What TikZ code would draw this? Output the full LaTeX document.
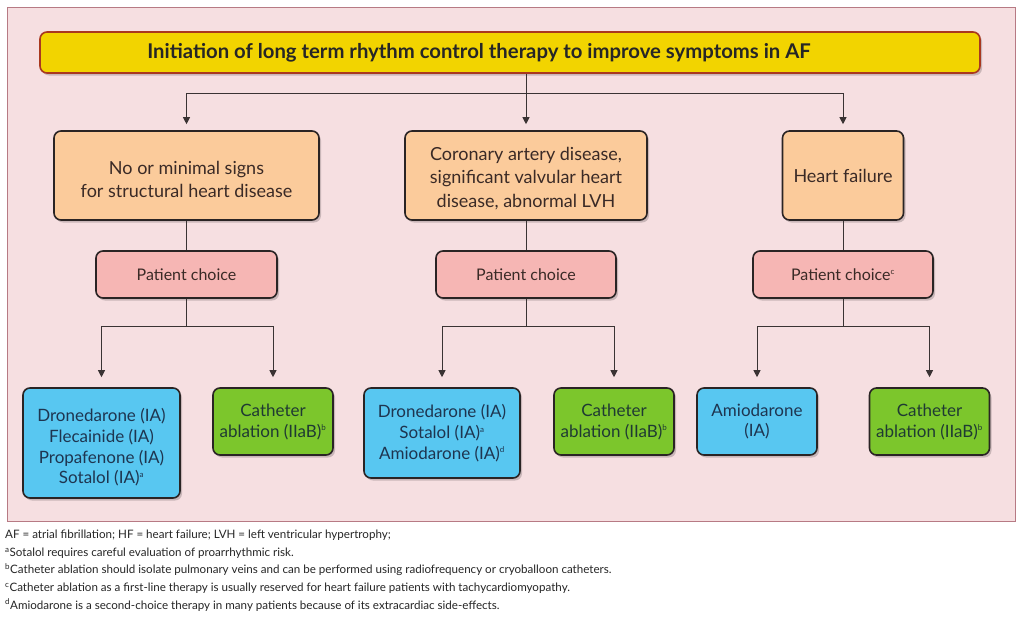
\documentclass[tikz,border=0pt]{standalone}
\usepackage{fontspec}
\setmainfont{Lato}
\usetikzlibrary{shadows,arrows.meta}
\definecolor{panelfill}{HTML}{F6DFE1}
\definecolor{paneldraw}{HTML}{B77A84}
\definecolor{titlefill}{HTML}{F2D400}
\definecolor{titledraw}{HTML}{A9381F}
\definecolor{orangefill}{HTML}{FBCB9B}
\definecolor{pinkfill}{HTML}{F6B6B4}
\definecolor{bluefill}{HTML}{58C7F1}
\definecolor{greenfill}{HTML}{7CC62C}
\definecolor{boxdraw}{HTML}{2A2424}
\definecolor{bluetext}{HTML}{1E3550}
\definecolor{greentext}{HTML}{1F3A33}
\definecolor{darktext}{HTML}{3A2A26}
\definecolor{linecol}{HTML}{3A3333}
\tikzset{
  basebox/.style={draw=boxdraw, line width=1.6pt, rounded corners=7pt, align=center, inner sep=0pt,
    drop shadow={shadow xshift=2pt, shadow yshift=-2.5pt, opacity=0.18, fill=black}},
  titlebox/.style={basebox, draw=titledraw, fill=titlefill, text=black!85, font=\fontsize{20.3}{22}\selectfont\bfseries},
  orangebox/.style={basebox, fill=orangefill, text=darktext, font=\fontsize{18}{23.5}\selectfont},
  pinkbox/.style={basebox, fill=pinkfill, text=darktext, font=\fontsize{16}{18}\selectfont},
  bluebox/.style={basebox, fill=bluefill, text=bluetext, font=\fontsize{17}{20.7}\selectfont},
  greenbox/.style={basebox, fill=greenfill, text=greentext, font=\fontsize{17}{21}\selectfont},
  conn/.style={draw=linecol, line width=0.9pt},
  arr/.style={conn, -{Triangle[length=7pt,width=7pt]}, shorten >=6pt},
  arrb/.style={conn, -{Triangle[length=7pt,width=7pt]}, shorten >=10pt},
}
\newcommand{\sps}[1]{\textsuperscript{\fontsize{8}{8}\selectfont #1}}
\begin{document}
\begin{tikzpicture}[x=1pt,y=-1pt]
\useasboundingbox (0,0) rectangle (1024,619);
\fill[white] (0,0) rectangle (1024,619);
\draw[fill=panelfill, draw=paneldraw, line width=0.9pt] (7,7) rectangle (1015,521);

\node[titlebox, minimum width=940pt, minimum height=41pt] (title) at (510,52.5)
  {\hspace*{-62pt}Initiation of long term rhythm control therapy to improve symptoms in AF};

\node[orangebox, minimum width=265pt, minimum height=89pt] (o1) at (186.5,175.5)
  {\rule{0pt}{21pt}No or minimal signs\\for structural heart disease};
\node[orangebox, minimum width=242pt, minimum height=89pt] (o2) at (526,175.5)
  {\rule{0pt}{19pt}Coronary artery disease,\\significant valvular heart\\disease, abnormal LVH};
\node[orangebox, minimum width=121pt, minimum height=89pt] (o3) at (843,175.5)
  {Heart failure};

\node[pinkbox, minimum width=181pt, minimum height=47pt] (p1) at (186.5,274.5) {Patient choice};
\node[pinkbox, minimum width=180pt, minimum height=47pt] (p2) at (526,274.5) {Patient choice};
\node[pinkbox, minimum width=180pt, minimum height=47pt] (p3) at (843,274.5) {Patient choice\sps{c}};

\node[bluebox, minimum width=157pt, minimum height=110pt] (b1) at (101.5,443)
  {\rule{0pt}{22pt}Dronedarone (IA)\\Flecainide (IA)\\Propafenone (IA)\\Sotalol (IA)\sps{a}};
\node[greenbox, minimum width=120pt, minimum height=67pt] (g1) at (273,421.5)
  {Catheter\\ablation (IIaB)\sps{b}};
\node[bluebox, minimum width=156pt, minimum height=90pt] (b2) at (442,433)
  {Dronedarone (IA)\\Sotalol (IA)\sps{a}\\Amiodarone (IA)\sps{d}};
\node[greenbox, minimum width=120pt, minimum height=67pt] (g2) at (614,421.5)
  {Catheter\\ablation (IIaB)\sps{b}};
\node[bluebox, minimum width=120pt, minimum height=67pt] (b3) at (757,421.5)
  {Amiodarone\\(IA)};
\node[greenbox, minimum width=120pt, minimum height=67pt] (g3) at (929.5,421.5)
  {Catheter\\ablation (IIaB)\sps{b}};

% top connectors
\coordinate (j0) at (526,93);
\draw[conn] (j0 |- title.south) -- (j0);
\draw[arr] (j0) -| (o1.north);
\draw[arr] (j0) -- (o2.north);
\draw[arr] (j0) -| (o3.north);

\draw[conn] (o1.south) -- (p1.north);
\draw[conn] (o2.south) -- (p2.north);
\draw[conn] (o3.south) -- (p3.north);

\coordinate (j1) at (186.5,326);
\coordinate (j2) at (526,326);
\coordinate (j3) at (843,326);
\draw[conn] (p1.south) -- (j1);
\draw[conn] (p2.south) -- (j2);
\draw[conn] (p3.south) -- (j3);
\draw[arrb] (j1) -| (b1.north);
\draw[arrb] (j1) -| (g1.north);
\draw[arrb] (j2) -| (b2.north);
\draw[arrb] (j2) -| (g2.north);
\draw[arrb] (j3) -| (b3.north);
\draw[arrb] (j3) -| (g3.north);

\node[anchor=north west, align=left, inner sep=0pt, text=black!85,
  font=\fontsize{11.6}{17.6}\selectfont] (notes) at (5,530)
  {AF = atrial fibrillation; HF = heart failure; LVH = left ventricular hypertrophy;\\
   \sps{a}Sotalol requires careful evaluation of proarrhythmic risk.\\
   \sps{b}Catheter ablation should isolate pulmonary veins and can be performed using radiofrequency or cryoballoon catheters.\\
   \sps{c}Catheter ablation as a first-line therapy is usually reserved for heart failure patients with tachycardiomyopathy.\\
   \sps{d}Amiodarone is a second-choice therapy in many patients because of its extracardiac side-effects.};
\end{tikzpicture}
\end{document}
